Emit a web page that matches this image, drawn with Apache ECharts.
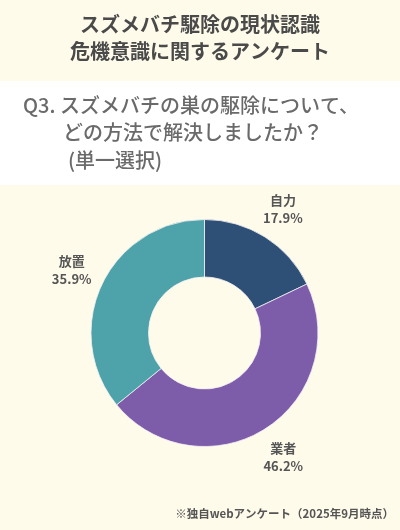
<!DOCTYPE html>
<html>
<head>
<meta charset="utf-8">
<script src="https://cdn.jsdelivr.net/npm/echarts@6/dist/echarts.min.js"></script>
<style>
html,body{margin:0;padding:0;background:#fffbeb;}
#main{width:400px;height:530px;}
</style>
</head>
<body>
<div id="main"></div>
<script>
var titleLines = ['スズメバチ駆除の現状認識', '危機意識に関するアンケート'];
var questionLines = ['Q3. スズメバチの巣の駆除について、', 'どの方法で解決しましたか？', '(単一選択)'];
var footnote = '※独自webアンケート（2025年9月時点）';
var categories = ['自力', '業者', '放置'];
var values = [17.9, 46.2, 35.9];
var colors = ['#2e5077', '#7d5caa', '#4ea2a9'];

var FONT = '"Noto Sans CJK JP", "Noto Sans", sans-serif';
var pieData = categories.map(function (c, i) {
  return { name: c, value: values[i], itemStyle: { color: colors[i] } };
});

var chart = echarts.init(document.getElementById('main'), null, { renderer: 'canvas' });
chart.setOption({
  backgroundColor: '#fffbeb',
  animation: false,
  graphic: [
    { type: 'rect', left: 0, top: 81, z: 0, shape: { width: 400, height: 104 }, style: { fill: '#ffffff' } },
    { type: 'text', left: 'center', top: 14, z: 1, style: { text: titleLines[0], font: 'bold 20px ' + FONT, fill: '#4a4a4a' } },
    { type: 'text', left: 'center', top: 41, z: 1, style: { text: titleLines[1], font: 'bold 20px ' + FONT, fill: '#4a4a4a' } },
    { type: 'text', left: 23, top: 95, z: 1, style: { text: questionLines[0], font: '500 20px ' + FONT, fill: '#6a6a6a' } },
    { type: 'text', left: 63, top: 122, z: 1, style: { text: questionLines[1], font: '500 20px ' + FONT, fill: '#6a6a6a' } },
    { type: 'text', left: 68, top: 150, z: 1, style: { text: questionLines[2], font: '500 20px ' + FONT, fill: '#6a6a6a' } },
    { type: 'text', right: 6, top: 508, z: 1, style: { text: footnote, font: 'bold 11.5px ' + FONT, fill: '#555555' } }
  ],
  series: [
    {
      type: 'pie',
      center: [204.5, 333],
      radius: [56, 113.5],
      startAngle: 90,
      clockwise: true,
      silent: true,
      label: { show: false },
      labelLine: { show: false },
      itemStyle: { borderColor: '#f4f1f4', borderWidth: 0.8 },
      data: pieData
    },
    {
      type: 'pie',
      center: [204.5, 333],
      radius: [139, 149],
      startAngle: 90,
      clockwise: true,
      silent: true,
      itemStyle: { color: 'rgba(0,0,0,0)', borderWidth: 0 },
      labelLine: { show: false },
      label: {
        show: true,
        position: 'inside',
        formatter: '{b}\n{c}%',
        fontFamily: FONT,
        fontSize: 13,
        fontWeight: 'bold',
        color: '#555555',
        lineHeight: 18,
        align: 'center'
      },
      data: categories.map(function (c, i) { return { name: c, value: values[i] }; })
    }
  ]
});
</script>
</body>
</html>
